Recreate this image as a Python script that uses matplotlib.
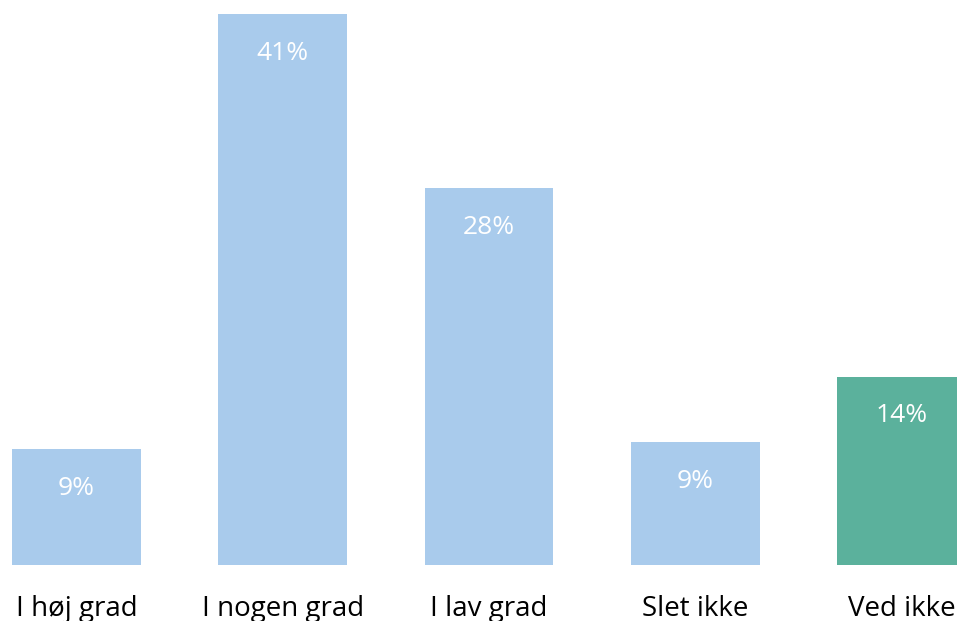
import matplotlib
matplotlib.use("Agg")
import matplotlib.pyplot as plt

categories = ["I høj grad", "I nogen grad", "I lav grad", "Slet ikke", "Ved ikke"]
values = [8.6, 41.0, 28.05, 9.15, 14.0]
labels = ["9%", "41%", "28%", "9%", "14%"]
colors = ["#A9CBEC", "#A9CBEC", "#A9CBEC", "#A9CBEC", "#5BB19C"]

plt.rcParams['font.family'] = ['Open Sans', 'DejaVu Sans']

fig = plt.figure(figsize=(9.57, 6.21), dpi=100)
ax = fig.add_axes([0, 1 - 565/621, 1, 565/621 - 0.0])
x = list(range(len(categories)))
ax.bar(x, values, width=0.625, color=colors)
ax.set_xlim(-0.371, 4.269)
ax.set_ylim(0, 42.05)
for xi, v, lab in zip(x, values, labels):
    ax.annotate(lab, (xi, v), xytext=(0, -39), textcoords='offset pixels',
                ha='center', va='center', color='white', fontsize=19)
for xi, c in zip(x, categories):
    ax.annotate(c, (xi, 0), xytext=(0, -44), textcoords='offset pixels',
                ha='center', va='center', color='black', fontsize=20,
                annotation_clip=False)
ax.axis('off')
fig.savefig("out.png", dpi=100)
